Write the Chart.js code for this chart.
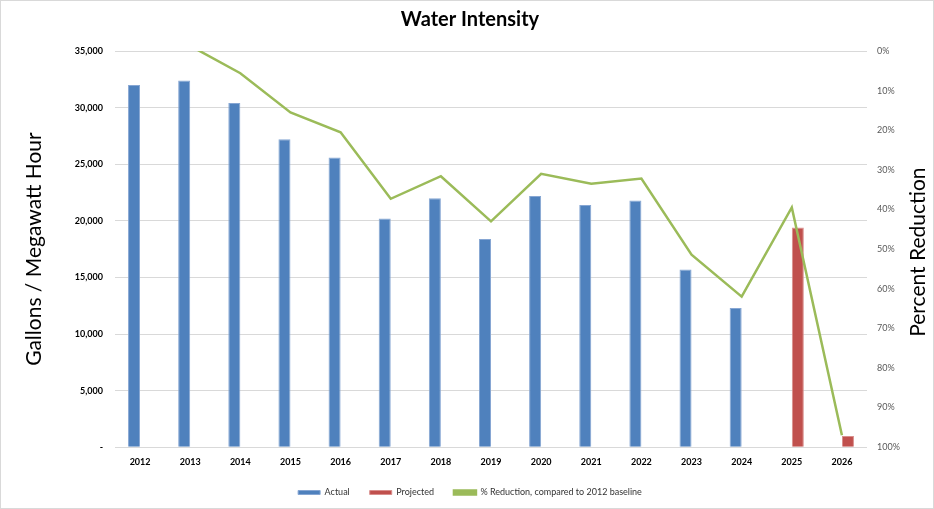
<!DOCTYPE html>
<html>
<head>
<meta charset="utf-8">
<script src="https://cdn.jsdelivr.net/npm/chart.js@4.4.1/dist/chart.umd.min.js"></script>
<style>
  html, body { margin: 0; padding: 0; background: #fff; }
  #wrap { width: 934px; height: 509px; position: relative; }
</style>
</head>
<body>
<div id="wrap"><canvas id="chart"></canvas></div>
<script>
// =====================
// Data
// =====================

const years = ['2012', '2013', '2014', '2015', '2016', '2017', '2018', '2019',
  '2020', '2021', '2022', '2023', '2024', '2025', '2026'];
const actual = [32000, 32400, 30400, 27200, 25600, 20200, 22000, 18400,
  22200, 21400, 21800, 15700, 12300, null, null];
const projected = [null, null, null, null, null, null, null, null,
  null, null, null, null, null, 19400, 1000];
// reduction vs 2012 baseline, fraction (0 = 0%, 1 = 100%)
const reduction = [null, -0.013, 0.056, 0.155, 0.205, 0.373, 0.316, 0.43,
  0.31, 0.335, 0.322, 0.514, 0.62, 0.395, 0.97];
const leftTicks = [0, 5000, 10000, 15000, 20000, 25000, 30000, 35000];

const FONT = 'Lato, "Open Sans", sans-serif';
const RIGHT_TITLE = 'Percent Reduction';

// light frame round the picture + right axis title read bottom to top
const framePlugin = {
  id: 'frame',
  afterDraw(chart) {
    const ctx = chart.ctx;
    const area = chart.chartArea;
    ctx.save();
    ctx.strokeStyle = '#d9d9d9';
    ctx.lineWidth = 1;
    ctx.strokeRect(0.5, 0.5, chart.width - 1, chart.height - 1);

    ctx.translate(918, (area.top + area.bottom) / 2 + 3);
    ctx.rotate(-Math.PI / 2);
    ctx.fillStyle = '#000';
    ctx.font = '21px ' + FONT;
    ctx.textAlign = 'center';
    ctx.textBaseline = 'middle';
    ctx.fillText(RIGHT_TITLE, 0, 0);
    ctx.restore();
  }
};

new Chart(document.getElementById('chart'), {
  type: 'bar',
  data: {
    labels: years,
    datasets: [
      {
        label: 'Actual',
        data: actual,
        backgroundColor: '#4F81BD',
        borderColor: '#86a6d3',
        borderWidth: 1,
        yAxisID: 'y',
        order: 1
      },
      {
        label: 'Projected',
        data: projected,
        backgroundColor: '#C0504D',
        borderColor: '#d98e8c',
        borderWidth: 1,
        yAxisID: 'y',
        order: 1
      },
      {
        type: 'line',
        label: '% Reduction, compared to 2012 baseline',
        data: reduction,
        borderColor: '#9BBB59',
        backgroundColor: '#9BBB59',
        borderWidth: 2.5,
        pointRadius: 0,
        tension: 0,
        yAxisID: 'y2',
        order: 0
      }
    ]
  },
  options: {
    responsive: true,
    maintainAspectRatio: false,
    animation: false,
    categoryPercentage: 0.48,
    barPercentage: 1,
    layout: { padding: { left: 10, right: 4, top: 0, bottom: 2 } },
    plugins: {
      title: {
        display: true,
        text: 'Water Intensity',
        color: '#000',
        font: { family: FONT, size: 20, weight: 'bold' },
        padding: { top: 8, bottom: 19 }
      },
      legend: {
        position: 'bottom',
        labels: {
          color: '#333',
          font: { family: FONT, size: 9 },
          boxWidth: 22,
          boxHeight: 4,
          padding: 20,
          sort: (a, b) => a.datasetIndex - b.datasetIndex
        }
      },
      tooltip: { enabled: false }
    },
    scales: {
      x: {
        grid: { display: false },
        border: { display: false },
        ticks: {
          color: '#000',
          font: { family: FONT, size: 9, weight: 'bold' },
          padding: 1,
          maxRotation: 0
        }
      },
      y: {
        position: 'left',
        min: 0,
        max: 35000,
        afterBuildTicks(scale) {
          scale.ticks = leftTicks.map(v => ({ value: v }));
        },
        afterFit(scale) { scale.width = 105; },
        grid: { color: '#d9d9d9', drawTicks: false },
        border: { display: false },
        ticks: {
          color: '#000',
          padding: 12,
          font: { family: FONT, size: 9, weight: 'bold' },
          callback: v => v === 0 ? '-' : v.toLocaleString('en-US')
        },
        title: {
          display: true,
          text: 'Gallons / Megawatt Hour',
          color: '#000',
          font: { family: FONT, size: 21 },
          padding: { top: 12, bottom: 0 }
        }
      },
      y2: {
        position: 'right',
        reverse: true,
        min: 0,
        max: 1,
        afterFit(scale) { scale.width = 63; },
        grid: { display: false, drawTicks: false },
        border: { display: false },
        ticks: {
          stepSize: 0.1,
          color: '#595959',
          padding: 10,
          font: { family: FONT, size: 9 },
          callback: v => Math.round(v * 100) + '%'
        }
      }
    }
  },
  plugins: [framePlugin]
});
</script>
</body>
</html>
